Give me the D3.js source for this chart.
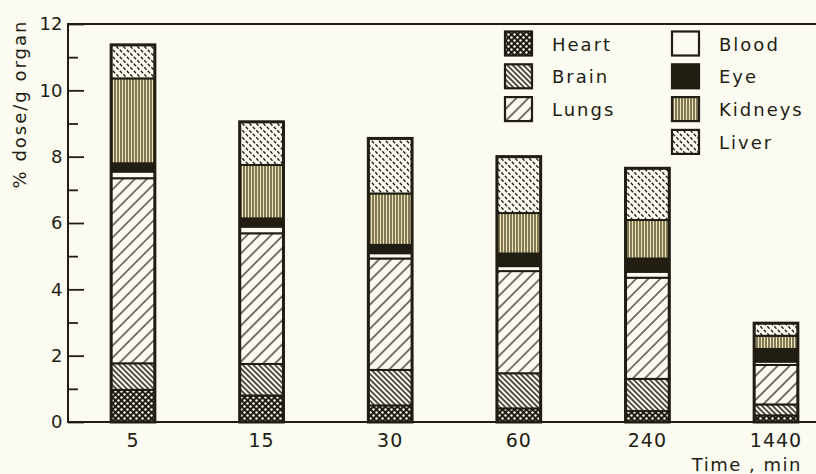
<!DOCTYPE html>
<html>
<head>
<meta charset="utf-8">
<script src="https://cdn.jsdelivr.net/npm/d3@7"></script>
<style>
  html, body { margin: 0; padding: 0; background: #fcfbf2; }
  svg { display: block; }
  text { font-family: "DejaVu Sans", sans-serif; fill: #221d12; }
</style>
</head>
<body>
<svg id="chart" width="816" height="474"></svg>
<script>
// ---- data ----
const times = ["5", "15", "30", "60", "240", "1440"];
const organs = ["Heart", "Brain", "Lungs", "Blood", "Eye", "Kidneys", "Liver"];
const heart   = [0.97, 0.80, 0.50, 0.41, 0.33, 0.20];
const brain   = [0.80, 0.95, 1.07, 1.06, 0.97, 0.33];
const lungs   = [5.58, 3.94, 3.36, 3.08, 3.05, 1.19];
const blood   = [0.20, 0.20, 0.16, 0.15, 0.18, 0.10];
const eye     = [0.25, 0.25, 0.25, 0.38, 0.40, 0.38];
const kidneys = [2.56, 1.61, 1.55, 1.22, 1.16, 0.40];
const liver   = [1.01, 1.30, 1.66, 1.70, 1.56, 0.38];
const yTicks = [0, 2, 4, 6, 8, 10, 12];
const yMinorTicks = [1, 3, 5, 7, 9, 11];
const yTitle = "% dose/g organ";
const xTitle = "Time , min";

const seriesValues = { Heart: heart, Brain: brain, Lungs: lungs, Blood: blood, Eye: eye, Kidneys: kidneys, Liver: liver };
const table = times.map((t, i) => {
  const row = { time: t };
  organs.forEach(o => row[o] = seriesValues[o][i]);
  return row;
});

const ink = "#221d12";
const paper = "#fcfbf2";
const svg = d3.select("#chart");

// ---- patterns ----
const defs = svg.append("defs");
const pH = defs.append("pattern").attr("id", "p-Heart").attr("patternUnits", "userSpaceOnUse")
  .attr("width", 6).attr("height", 6);
pH.append("rect").attr("width", 6).attr("height", 6).attr("fill", ink);
pH.append("circle").attr("cx", 1.5).attr("cy", 1.5).attr("r", 1.2).attr("fill", paper);
pH.append("circle").attr("cx", 4.5).attr("cy", 4.5).attr("r", 1.2).attr("fill", paper);
const pB = defs.append("pattern").attr("id", "p-Brain").attr("patternUnits", "userSpaceOnUse")
  .attr("width", 3.8).attr("height", 10).attr("patternTransform", "rotate(-45)");
pB.append("rect").attr("width", 3.8).attr("height", 10).attr("fill", paper);
pB.append("line").attr("x1", 1).attr("y1", 0).attr("x2", 1).attr("y2", 10).attr("stroke", ink).attr("stroke-width", 1.5);
const pL = defs.append("pattern").attr("id", "p-Lungs").attr("patternUnits", "userSpaceOnUse")
  .attr("width", 8.5).attr("height", 10).attr("patternTransform", "rotate(45)");
pL.append("rect").attr("width", 8.5).attr("height", 10).attr("fill", paper);
pL.append("line").attr("x1", 1).attr("y1", 0).attr("x2", 1).attr("y2", 10).attr("stroke", ink).attr("stroke-width", 1.2);
const pK = defs.append("pattern").attr("id", "p-Kidneys").attr("patternUnits", "userSpaceOnUse")
  .attr("width", 3).attr("height", 10);
pK.append("rect").attr("width", 3).attr("height", 10).attr("fill", "#f1e6b2");
pK.append("line").attr("x1", 1).attr("y1", 0).attr("x2", 1).attr("y2", 10).attr("stroke", ink).attr("stroke-width", 1.1);
const pV = defs.append("pattern").attr("id", "p-Liver").attr("patternUnits", "userSpaceOnUse")
  .attr("width", 7).attr("height", 7);
pV.append("rect").attr("width", 7).attr("height", 7).attr("fill", paper);
pV.append("line").attr("x1", 0.8).attr("y1", 0.8).attr("x2", 3).attr("y2", 3.3).attr("stroke", ink).attr("stroke-width", 1.3);
pV.append("line").attr("x1", 4.3).attr("y1", 4.3).attr("x2", 6.5).attr("y2", 6.8).attr("stroke", ink).attr("stroke-width", 1.3);

const fills = {
  Heart: "url(#p-Heart)", Brain: "url(#p-Brain)", Lungs: "url(#p-Lungs)",
  Blood: paper, Eye: ink, Kidneys: "url(#p-Kidneys)", Liver: "url(#p-Liver)"
};

// ---- scales ----
const plotLeft = 68, plotRight = 840.3, plotTop = 24, plotBottom = 422;
const x = d3.scaleBand().domain(times).range([plotLeft + 0.7, plotRight]).paddingInner(0.66).paddingOuter(0.33);
const y = d3.scaleLinear().domain([0, 12]).range([plotBottom, plotTop]);

// ---- bars ----
const stack = d3.stack().keys(organs)(table);
const gBars = svg.append("g");
stack.forEach(layer => {
  gBars.append("g").selectAll("rect").data(layer).join("rect")
    .attr("x", d => x(d.data.time))
    .attr("width", x.bandwidth())
    .attr("y", d => y(d[1]))
    .attr("height", d => y(d[0]) - y(d[1]))
    .attr("fill", fills[layer.key])
    .attr("stroke", ink).attr("stroke-width", 2);
});
gBars.append("g").selectAll("rect").data(table).join("rect")
  .attr("x", d => x(d.time))
  .attr("width", x.bandwidth())
  .attr("y", d => y(d3.sum(organs, o => d[o])))
  .attr("height", d => y(0) - y(d3.sum(organs, o => d[o])))
  .attr("fill", "none").attr("stroke", ink).attr("stroke-width", 3);

// ---- axes ----
const yAxis = d3.axisLeft(y).tickValues(yTicks).tickSize(-16).tickPadding(5.5).tickFormat(d3.format("d"));
const gy = svg.append("g").attr("transform", `translate(${plotLeft},0)`).call(yAxis);
gy.select(".domain").remove();
gy.selectAll(".tick line").attr("stroke", ink).attr("stroke-width", 1.8);
gy.selectAll(".tick text").style("font-size", "18px").attr("fill", ink);

const yMinor = d3.axisLeft(y).tickValues(yMinorTicks).tickSize(-10).tickFormat("");
const gy2 = svg.append("g").attr("transform", `translate(${plotLeft},0)`).call(yMinor);
gy2.select(".domain").remove();
gy2.selectAll(".tick line").attr("stroke", ink).attr("stroke-width", 1.8);

svg.append("path").attr("d", d3.line()([[816, plotTop], [plotLeft, plotTop], [plotLeft, plotBottom], [816, plotBottom]]))
  .attr("fill", "none").attr("stroke", ink).attr("stroke-width", 2);

const xAxis = d3.axisBottom(x).tickSize(0).tickPadding(12);
const gx = svg.append("g").attr("transform", `translate(0,${plotBottom})`).call(xAxis);
gx.select(".domain").remove();
gx.selectAll(".tick text").style("font-size", "19px").attr("fill", ink).style("letter-spacing", "1px");

svg.append("text").attr("transform", "translate(26,104) rotate(-90)")
  .attr("text-anchor", "middle").style("font-size", "18px").style("letter-spacing", "2px").text(yTitle);
svg.append("text").attr("x", 802).attr("y", 471).attr("text-anchor", "end")
  .style("font-size", "18px").style("letter-spacing", "1.5px").text(xTitle);

// ---- legend ----
const legendCols = [
  { x: 505, items: organs.slice(0, 3) },
  { x: 672, items: organs.slice(3) }
];
const rowY = d3.scaleLinear().domain([0, 1]).range([31.5, 64.3]);
legendCols.forEach(col => {
  const g = svg.append("g");
  col.items.forEach((name, i) => {
    g.append("rect").attr("x", col.x).attr("y", rowY(i)).attr("width", 27).attr("height", 24)
      .attr("fill", fills[name]).attr("stroke", ink).attr("stroke-width", 2.2);
    g.append("text").attr("x", col.x + 47).attr("y", rowY(i) + 19)
      .style("font-size", "18px").style("letter-spacing", "2px").text(name);
  });
});
</script>
</body>
</html>
